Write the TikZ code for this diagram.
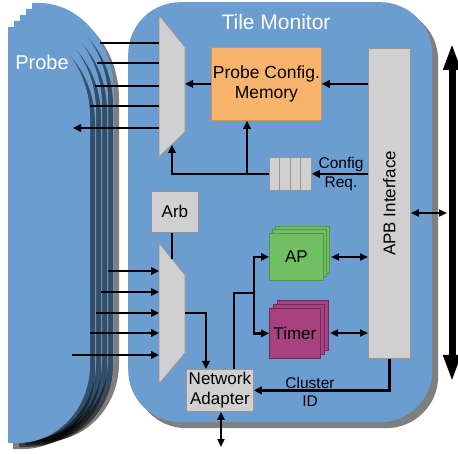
\documentclass[tikz,border=0pt]{standalone}
\usepackage{fontspec}
\setmainfont{Liberation Sans}
\usetikzlibrary{arrows.meta,shadows}
\definecolor{tileblue}{RGB}{108,157,208}
\definecolor{boxgray}{RGB}{208,208,208}
\definecolor{boxline}{RGB}{150,150,150}
\definecolor{memfill}{RGB}{249,180,107}
\definecolor{memline}{RGB}{205,145,85}
\definecolor{apfill}{RGB}{112,191,96}
\definecolor{apline}{RGB}{78,150,66}
\definecolor{tmfill}{RGB}{166,66,128}
\definecolor{tmline}{RGB}{115,40,88}
\begin{document}
\begin{tikzpicture}[x=1pt,y=-1pt,
  wire/.style={line width=2.5pt},
  arr/.style={wire,-{Triangle[length=8pt,width=7.5pt]}},
  darr/.style={line width=2pt,{Triangle[length=8pt,width=7pt]}-{Triangle[length=8pt,width=7pt]}},
  busarr/.style={line width=7pt,{Triangle[length=27pt,width=16pt]}-{Triangle[length=27pt,width=16pt]}},
  shade/.style={drop shadow={shadow xshift=5pt,shadow yshift=-6pt,fill=black,opacity=0.5}},
  gbox/.style={draw=boxline,fill=boxgray,line width=0.8pt,inner sep=0pt,align=center,
    font=\fontsize{17}{20}\selectfont},
  mux/.style={draw=boxline,fill=boxgray,line width=0.8pt},
  apbox/.style={gbox,draw=apline,fill=apfill,minimum width=54pt,minimum height=47pt,anchor=north west},
  tmbox/.style={gbox,draw=tmline,fill=tmfill,minimum width=51pt,minimum height=50pt,anchor=north west},
  lbl/.style={align=center,inner sep=0pt,font=\fontsize{15.5}{18.5}\selectfont}]
\useasboundingbox (0,0) rectangle (458,454);

% stacked probe outlines, back to front; each copy reaches further up and right
\foreach \k in {4,3,2,1,0}{
  \pgfmathsetmacro\xa{8+6*\k}
  \pgfmathsetmacro\ya{27-6*\k}
  \pgfmathsetmacro\xb{90+6*\k}
  \pgfmathsetmacro\yb{443-2*\k}
  \path[fill=tileblue,shade] (\xa,\ya) -- (\xa+7,\ya) .. controls (\xa+48.4,\ya) and (\xb,\ya+40.3) .. (\xb,\ya+90)
    -- (\xb,\yb-78) .. controls (\xb,\yb-35) and (\xb-32.3,\yb) .. (\xb-72,\yb) -- (\xa,\yb) -- cycle;
}
\node[text=white,font=\fontsize{20}{24}\selectfont] (probe) at (42,62) {Probe};

% tile monitor body
\node[fill=tileblue,rounded corners=52pt,minimum width=304pt,minimum height=420pt,anchor=north west,
  drop shadow={shadow xshift=6pt,shadow yshift=-6pt,fill=black,opacity=0.5}] (tile) at (128,2) {};
\node[text=white,font=\fontsize{21}{24}\selectfont] (title) at (276,22) {Tile Monitor};

% blocks
\node[gbox,fill=memfill,draw=memline,minimum width=110pt,minimum height=73pt,anchor=north west,
  font=\fontsize{17.5}{20}\selectfont] (pcm) at (211,47) {Probe Config.\\Memory};
\node[gbox,minimum width=42pt,minimum height=33pt,anchor=north west] (fifo) at (269,157) {};
\foreach \x in {279.5,290,300.5} \draw[boxline,line width=0.8pt] (\x,157) -- (\x,190);
\node[gbox,minimum width=47pt,minimum height=41pt,anchor=north west] (arb) at (151,191) {Arb};
\node[gbox,minimum width=67pt,minimum height=42pt,anchor=north west] (na) at (186,369) {Network\\Adapter};
\node[gbox,minimum width=42pt,minimum height=310pt,anchor=north west] (apb) at (368,48) {};
\node[rotate=90,font=\fontsize{17}{20}\selectfont] (apbtext) at (apb.center) {APB Interface};

\foreach \k in {2,1} \node[apbox] (ap\k) at (269+3*\k,233-3.5*\k) {};
\node[apbox] (ap) at (269,233) {AP};
\foreach \k in {2,1} \node[tmbox] (tm\k) at (269+4*\k,308-4*\k) {};
\node[tmbox] (timer) at (269,308) {Timer};

% multiplexers
\draw[mux] (159,15) coordinate (m1a) -- (185,47) coordinate (m1b) -- (185,132) coordinate (m1c) -- (159,157) coordinate (m1d) -- cycle;
\draw[mux] (159,243) coordinate (m2a) -- (185,275) coordinate (m2b) -- (185,353) coordinate (m2c) -- (159,384) coordinate (m2d) -- cycle;

% probe interface lines
\foreach \y/\x [count=\i] in {43/100,63/97,86/95,106/90}{
  \coordinate (po\i) at (\x,\y);
  \draw[wire] (po\i) -- (po\i -| m1a);
}
\coordinate (pin) at (73,128);
\draw[arr] (pin -| m1a) -- (pin);
\foreach \y/\x [count=\i] in {271/108,292/101,313/96,333/90,355/72}{
  \coordinate (pi\i) at (\x,\y);
  \draw[arr] (pi\i) -- (pi\i -| m2a);
}

% configuration path
\draw[arr] (pcm.west) -- (pcm.west -| m1b);
\draw[arr] (apb.west |- pcm.east) -- (pcm.east);
\draw[arr] (apb.west |- fifo.east) -- (fifo.east);
\coordinate (cfgup) at (172,145);
\draw[arr] (fifo.west) -| (cfgup);
\coordinate (memup) at (247,173.5);
\draw[arr] (memup) -- (pcm.south -| memup);
\node[lbl] (cfglbl) at (341,174) {Config\\Req.};

% arbiter and network adapter
\coordinate (arbx) at (172,259);
\draw[wire] (arb.south -| arbx) -- (arbx);
\coordinate (m2out) at (185,313);
\coordinate (nain) at (206,313);
\draw[arr] (m2out) -- (nain) -- (na.north -| nain);
\coordinate (nau) at (234,293);
\coordinate (split) at (254,293);
\draw[wire] (na.north -| nau) -- (nau) -- (split);
\draw[arr] (split) |- (ap.west);
\draw[arr] (split) |- (timer.west);
\draw[darr] (331,257) -- (apb.west |- 0,257);
\draw[darr] (330,333) -- (apb.west |- 0,333);
\draw[arr] (apb.south) |- (na.east);
\node[lbl] (cid) at (310,392) {Cluster\\ID};
\coordinate (nadown) at (221,447);
\draw[darr] (na.south -| nadown) -- (nadown);

% external bus
\coordinate (busT) at (452,43);
\coordinate (busB) at (452,382);
\coordinate (busJ) at (447,213);
\draw[busarr] (busB) -- (busT);
\draw[darr] (apb.east |- busJ) -- (busJ);
\end{tikzpicture}
\end{document}
